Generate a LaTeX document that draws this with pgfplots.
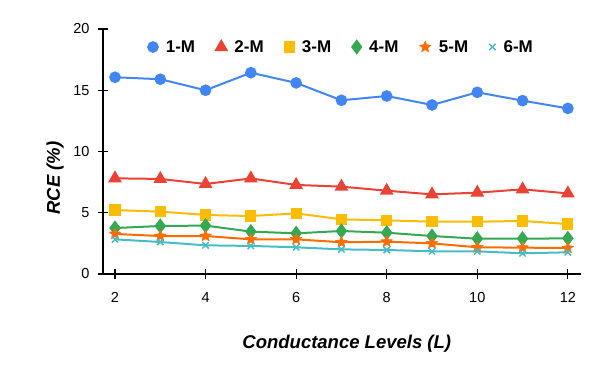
\documentclass[border=0pt]{standalone}
\usepackage{fontspec}
\setmainfont{Liberation Sans}
\usepackage{pgfplots}
\pgfplotsset{compat=1.18}

\definecolor{cblue}{HTML}{4285F4}
\definecolor{cred}{HTML}{EA4335}
\definecolor{cyellow}{HTML}{FBBC04}
\definecolor{cgreen}{HTML}{34A853}
\definecolor{corange}{HTML}{FF6D01}
\definecolor{cteal}{HTML}{46BDC6}

% filled five-pointed star
\pgfdeclareplotmark{fstar}{%
  \pgfpathmoveto{\pgfpointpolar{90}{\pgfplotmarksize}}%
  \pgfpathlineto{\pgfpointpolar{126}{0.45*\pgfplotmarksize}}%
  \pgfpathlineto{\pgfpointpolar{162}{\pgfplotmarksize}}%
  \pgfpathlineto{\pgfpointpolar{198}{0.45*\pgfplotmarksize}}%
  \pgfpathlineto{\pgfpointpolar{234}{\pgfplotmarksize}}%
  \pgfpathlineto{\pgfpointpolar{270}{0.45*\pgfplotmarksize}}%
  \pgfpathlineto{\pgfpointpolar{306}{\pgfplotmarksize}}%
  \pgfpathlineto{\pgfpointpolar{342}{0.45*\pgfplotmarksize}}%
  \pgfpathlineto{\pgfpointpolar{18}{\pgfplotmarksize}}%
  \pgfpathlineto{\pgfpointpolar{54}{0.45*\pgfplotmarksize}}%
  \pgfpathclose
  \pgfusepathqfillstroke
}

\begin{document}
\begin{tikzpicture}
\path[use as bounding box] (-103pt,-97pt) rectangle (497pt,274pt);
\begin{axis}[
  at={(0pt,0pt)}, anchor=south west,
  scale only axis, width=478pt, height=245pt,
  xmin=1.735, xmax=12.29, ymin=0, ymax=20,
  axis lines=left,
  axis line style={-, line width=1.2pt, black},
  xtick={2,4,...,12}, ytick={0,5,...,20},
  major tick length=10pt,
  tick style={line width=1.2pt, black},
  /pgf/number format/assume math mode=true,
  tick label style={font=\fontsize{14.5}{17}\selectfont},
  xticklabel style={yshift=-10pt},
  yticklabel style={xshift=-5pt},
  every axis x label/.style={at={(rel axis cs:0.51,0)}, yshift=-70pt, anchor=center},
  every axis y label/.style={at={(rel axis cs:0,0.392)}, xshift=-48pt, rotate=90, anchor=center},
  label style={font=\fontsize{18.5}{21}\selectfont\bfseries\itshape},
  xlabel={Conductance Levels (L)},
  ylabel={RCE (\%)},
  clip=false,
  legend columns=6,
  legend style={draw=none, fill=none, at={(rel axis cs:0.499,0.9265)}, anchor=center,
    font=\fontsize{17}{19}\selectfont\bfseries,
    /tikz/every odd column/.append style={column sep=6pt},
    /tikz/every even column/.append style={column sep=19pt},
    inner sep=0pt},
  legend image code/.code={\draw[#1, only marks] plot coordinates {(4pt,0pt)};},
  every axis plot/.append style={line width=2pt},
]
\addplot[cblue, mark=*, mark size=4.8pt] coordinates {
(2,16.06) (3,15.9) (4,15.0) (5,16.43) (6,15.6) (7,14.18) (8,14.53) (9,13.8) (10,14.83) (11,14.15) (12,13.52)};
\addlegendentry{1-M}
\addplot[cred, mark=triangle*, mark size=6pt] coordinates {
(2,7.81) (3,7.76) (4,7.35) (5,7.8) (6,7.27) (7,7.13) (8,6.8) (9,6.5) (10,6.64) (11,6.91) (12,6.58)};
\addlegendentry{2-M}
\addplot[cyellow, mark=square*, mark size=4.6pt] coordinates {
(2,5.22) (3,5.09) (4,4.82) (5,4.73) (6,4.95) (7,4.46) (8,4.38) (9,4.27) (10,4.27) (11,4.33) (12,4.08)};
\addlegendentry{3-M}
\addplot[cgreen, mark=diamond*, mark size=6pt] coordinates {
(2,3.75) (3,3.92) (4,3.95) (5,3.46) (6,3.32) (7,3.51) (8,3.37) (9,3.1) (10,2.88) (11,2.88) (12,2.91)};
\addlegendentry{4-M}
\addplot[corange, mark=fstar, mark size=6pt, mark options={line width=0.5pt}] coordinates {
(2,3.27) (3,3.1) (4,3.1) (5,2.83) (6,2.83) (7,2.59) (8,2.64) (9,2.5) (10,2.18) (11,2.15) (12,2.12)};
\addlegendentry{5-M}
\addplot[cteal, mark=x, mark size=4.5pt, mark options={line width=1.5pt}] coordinates {
(2,2.83) (3,2.61) (4,2.34) (5,2.29) (6,2.18) (7,2.01) (8,1.96) (9,1.85) (10,1.85) (11,1.69) (12,1.77)};
\addlegendentry{6-M}
\end{axis}
\end{tikzpicture}
\end{document}
